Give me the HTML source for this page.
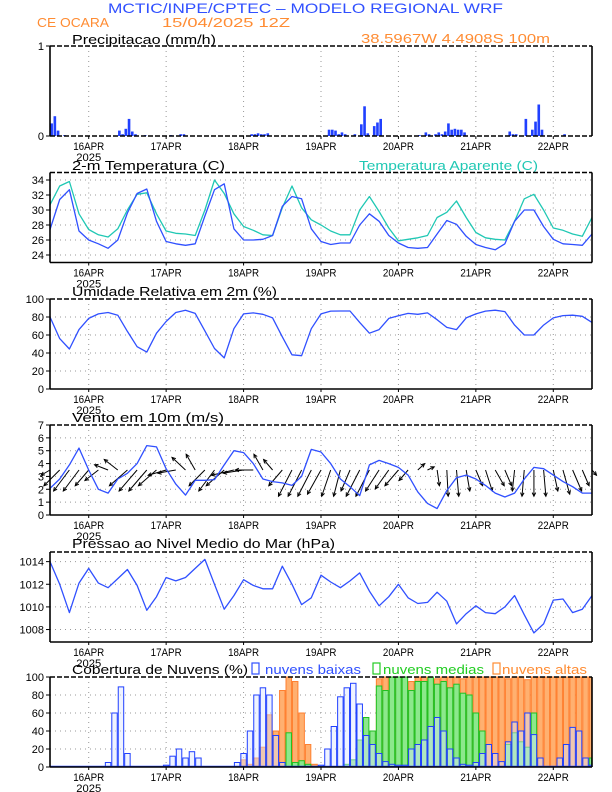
<!DOCTYPE html>
<html><head><meta charset="utf-8"><title>Meteograma WRF</title>
<style>
html,body{margin:0;padding:0;background:#fff;}
svg{display:block;font-family:"Liberation Sans",sans-serif;}
</style></head>
<body>
<svg id="c" width="612" height="792" viewBox="0 0 612 792">
<rect x="0" y="0" width="612" height="792" fill="#fff"/>
<text x="108" y="13" font-size="14" fill="#3050ff" textLength="395" lengthAdjust="spacingAndGlyphs">MCTIC/INPE/CPTEC – MODELO REGIONAL WRF</text>
<text x="37" y="27" font-size="13" fill="#ff8c33" textLength="72" lengthAdjust="spacingAndGlyphs">CE OCARA</text>
<text x="162" y="27" font-size="13" fill="#ff8c33" textLength="128" lengthAdjust="spacingAndGlyphs">15/04/2025 12Z</text>
<text x="361" y="43" font-size="13" fill="#ff8c33" textLength="189" lengthAdjust="spacingAndGlyphs">38.5967W 4.4908S 100m</text>
<text x="72" y="44" font-size="13" fill="#000" textLength="144" lengthAdjust="spacingAndGlyphs">Precipitacao (mm/h)</text>
<text x="72" y="170" font-size="13" fill="#000" textLength="153" lengthAdjust="spacingAndGlyphs">2-m Temperatura (C)</text>
<text x="359" y="170" font-size="13" fill="#20c8b4" textLength="179" lengthAdjust="spacingAndGlyphs">Temperatura Aparente (C)</text>
<text x="72" y="296" font-size="13" fill="#000" textLength="205" lengthAdjust="spacingAndGlyphs">Umidade Relativa em 2m (%)</text>
<text x="72" y="422" font-size="13" fill="#000" textLength="152" lengthAdjust="spacingAndGlyphs">Vento em 10m (m/s)</text>
<text x="72" y="548" font-size="13" fill="#000" textLength="263" lengthAdjust="spacingAndGlyphs">Pressao ao Nivel Medio do Mar (hPa)</text>
<text x="72" y="674" font-size="13" fill="#000" textLength="176" lengthAdjust="spacingAndGlyphs">Cobertura de Nuvens (%)</text>
<rect x="252" y="663" width="7" height="11" fill="none" stroke="#3050ff" stroke-width="1.2"/>
<text x="265" y="674" font-size="13" fill="#3050ff" textLength="96" lengthAdjust="spacingAndGlyphs">nuvens baixas</text>
<rect x="373" y="663" width="7" height="11" fill="none" stroke="#22cc22" stroke-width="1.2"/>
<text x="383" y="674" font-size="13" fill="#22cc22" textLength="101" lengthAdjust="spacingAndGlyphs">nuvens medias</text>
<rect x="493" y="663" width="7" height="11" fill="none" stroke="#ff8c33" stroke-width="1.2"/>
<text x="502" y="674" font-size="13" fill="#ff8c33" textLength="85" lengthAdjust="spacingAndGlyphs">nuvens altas</text>
</svg>
<script>
// ---- data ----
const dayHours = [12, 36, 60, 84, 108, 132, 156];
const dayLabels = ['16APR', '17APR', '18APR', '19APR', '20APR', '21APR', '22APR'];
const precipHours = [1,2,3,5,22,23,24,25,26,27,30,38,41,42,63,64,65,66,67,68,87,88,89,90,91,92,95,97,98,99,101,102,103,115,117,118,120,121,122,123,124,125,126,127,128,129,143,144,145,148,150,151,152,153,160];
const precipVals = [0.14,0.22,0.06,0.01,0.06,0.02,0.08,0.19,0.05,0.02,0.01,0.01,0.02,0.02,0.02,0.02,0.03,0.02,0.02,0.03,0.07,0.07,0.06,0.02,0.04,0.02,0.02,0.13,0.33,0.03,0.11,0.15,0.19,0.01,0.04,0.02,0.02,0.04,0.02,0.05,0.14,0.07,0.08,0.07,0.07,0.04,0.05,0.02,0.02,0.19,0.07,0.16,0.35,0.07,0.02];
const temp2m = [27.4,31.4,32.7,27.2,26,25.5,24.9,26,29.6,32.2,32.8,28.5,25.8,25.5,25.3,25.5,29.2,32.7,33.5,27.5,26,26,26.1,26.6,30.5,31.8,31.5,27.5,25.8,25.4,25.6,25.6,28,29.5,28.5,26.6,25.6,25,24.9,25,26.8,28.6,28.1,26.5,25.4,25,24.7,25.5,28.5,30,30,27.8,26.1,25.5,25.4,25.3,26.8];
const tempApparent = [30.7,33.2,33.8,29.5,27.4,26.7,26.4,27.5,30,32.1,32.3,29.5,27.2,26.9,26.8,26.6,30,34,32.2,29.5,27.8,27.3,26.7,26.6,30.3,33.2,30.3,28.7,28,27.2,26.7,26.7,30,31.8,29.8,27.6,25.9,26.1,26.3,26.6,29,29.7,31.2,29,27,26.3,26.1,26,28.5,31.5,32.1,30,27.6,27.3,26.8,26.5,29];
const humidity = [80,56,44.4,66,78.5,83.5,85,82,64,47,41,62,75,85,87.4,84,64.5,45,34.5,67,83.5,84.5,83,79,58,38,37,67,83.5,86.5,86.7,86.7,74,62,66,78.5,81.3,84,83,84.5,77,68.5,66,79,83.5,86.5,87.6,86,71,60,60,71,79,81.5,82,80.8,74];
const windSpeed = [2.07,2.8,3.9,5.2,3.5,2.0,1.7,2.8,3.24,4,5.4,5.3,3.6,2.4,1.55,2.7,2.7,2.75,3.9,5.0,4.85,4.0,2.8,2.6,2.5,2.3,3.0,5.1,4.9,4.0,2.8,2.2,1.5,3.9,4.25,4.0,3.7,3.1,1.8,0.9,0.5,1.9,2.9,3.1,2.8,2.3,1.7,1.4,1.7,2.8,3.7,3.6,3.1,2.6,2.2,1.7,1.7];
const windU = [-2,-3.5,-3.5,-3.5,-3,-3,-3,-3,-4,-4,-4,-4,-4,-4,-3,-2,-3.5,-3.5,-4,-5,-4.5,-4,-2,-2,-3,-3,-3,-3,-3,-2,-1.5,-2,-3,-3,-3,-3,-3,-2,1.5,1.5,0.5,0.3,0.5,0.8,1.5,1.5,2,1.5,-0.5,-0.5,0,0.5,1,1.5,2,1.5,1];
const windV = [-0.5,-1.5,-2,-2,-1.5,-1,0.5,1,-1.5,-2,-2,-1.5,-0.5,-0.3,1.2,1.5,-1.5,-2,-1.5,-0.5,-0.3,0,1.5,1,-1.5,-2.5,-2.5,-2.5,-2.3,-2.5,-2.5,-2,-2.5,-2.5,-2,-1.8,-1.5,-1,0.6,0.3,-1.5,-2.5,-2.5,-2,-1.5,-2,-1.5,-1.5,-2,-2.5,-2.5,-2.5,-2,-2.3,-2,-1.5,-0.5];
const pressure = [1014.0,1012.0,1009.5,1012.1,1013.4,1012.1,1011.7,1012.5,1013.3,1011.9,1009.7,1010.9,1012.6,1012.3,1012.6,1013.4,1014.2,1012.0,1009.8,1011.0,1012.4,1011.9,1011.6,1011.6,1013.6,1012.0,1010.2,1010.8,1012.8,1012.2,1011.7,1012.3,1013.0,1011.4,1010.1,1010.9,1012.0,1010.8,1010.3,1010.4,1011.3,1010.5,1008.5,1009.4,1010.1,1009.5,1009.4,1010.0,1011.0,1009.3,1007.7,1008.5,1010.6,1010.7,1009.5,1009.8,1011.0];
const cloudLow = [0,0,0,0,0,0,0,0,0, 5,60,89,15,0,0,0,0,0, 2,12,20,10,17,10,0,0,0,0,0,5, 15,40,80,88,80,35,5,0,0,0,0,0, 2,20,45,78,88,93,70,35,25,15,6,3,2,2, 20,25,30,45,55,40,20,10,3,2,5,15,25,15,6, 28,50,40,60,36,10,0,0,10,25,44,40,10,2];
const cloudMid = [0,0,0,0,0,0,0,0,0,0,0,0,0,0,0,0,0,0,0,0,0,0,0,0,0,0,0,0,0,0,0,0,0,0,0,0,0, 38,5,7,3, 0,0,0,0,0, 3,8,30,55,40,90,85,100,100,100,85,95,95,100,92,95,88,92,82,80,60,40, 0,0,0, 25,38,28,22,60, 0,0,0,0,0,0,0,0, 10];
const cloudHigh = [0,0,0,0,0,0,0,0,0,0,0,0,0,0,0,0,0,0,0,0,0,0,0,0,0,0,0,0,0,0, 8,3,10,22,58,40,85,100,95,60,25,3, 0,0,0,0,0,0, 10,20,30,98,100,100,100,100,95,100,100,100,98,100,100,100,98,100,100,100,100,100,100,98,100,100,97,100,100,100,100,100,100,100,100,100,100];
const tempTicks = [24,26,28,30,32,34];
const rhTicks = [0,20,40,60,80,100];
const windTicks = [0,1,2,3,4,5,6,7];
const presTicks = [1008,1010,1012,1014];
const cloudTicks = [0,20,40,60,80,100];
const precipTicks = [0,1];

// ---- layout ----
const NS = 'http://www.w3.org/2000/svg';
const svg = document.getElementById('c');
const X0 = 50, X1 = 592, PH = 90;
function xs(h){ return X0 + h * (X1 - X0) / 168; }
function ys(p, v){ return p.top + PH - (v - p.min) / (p.max - p.min) * PH; }
function mk(tag, attrs, parent){
  const e = document.createElementNS(NS, tag);
  for (const k in attrs) e.setAttribute(k, attrs[k]);
  (parent || svg).appendChild(e);
  return e;
}
const panels = {
  precip: {top:46, min:0, max:1, ticks:precipTicks},
  temp: {top:172.5, min:23, max:35, ticks:tempTicks},
  rh: {top:299, min:0, max:100, ticks:rhTicks},
  wind: {top:425, min:0, max:7, ticks:windTicks},
  pres: {top:552, min:1006.9, max:1014.85, ticks:presTicks},
  cloud: {top:677, min:0, max:100, ticks:cloudTicks}
};

function drawGrid(key){
  const p = panels[key];
  const g = mk('g', {});
  
  
  dayHours.forEach(function(h){
    const l = mk('line', {x1:xs(h), x2:xs(h), y1:p.top, y2:p.top+PH, stroke:'#999', 'stroke-width':1, 'stroke-dasharray':'1,4'}, g);
    
    
  });
  p.ticks.forEach(function(t){
    const y = ys(p, t);
    if (y > p.top + 1 && y < p.top + PH - 1) {
      const l = mk('line', {x1:X0, x2:X1, y1:y, y2:y, stroke:'#999', 'stroke-width':1, 'stroke-dasharray':'1,4'}, g);
      
      
    }
  });
}
function drawFrame(key){
  const p = panels[key];
  const g = mk('g', {});
  
  
  const b = p.top + PH;
  mk('line', {x1:X0, x2:X0, y1:p.top, y2:b, stroke:'#000', 'stroke-width':1.6}, g);
  mk('line', {x1:X1, x2:X1, y1:p.top, y2:b, stroke:'#000', 'stroke-width':1.6}, g);
  mk('line', {x1:X0, x2:X1, y1:p.top, y2:p.top, stroke:'#000', 'stroke-width':1.6, 'stroke-dasharray':'5,2'}, g);
  mk('line', {x1:X0, x2:X1, y1:b, y2:b, stroke:'#000', 'stroke-width':1.6, 'stroke-dasharray':key==='precip'?'5,2':'none'}, g);
  p.ticks.forEach(function(t){
    const y = ys(p, t);
    mk('line', {x1:X0-4, x2:X0, y1:y, y2:y, stroke:'#000', 'stroke-width':1}, g);
    const tx = mk('text', {x:X0-6, y:y+4, 'font-size':11, 'text-anchor':'end', fill:'#000'}, g);
    
    
    tx.textContent = String(t);
  });
  dayHours.forEach(function(h, i){
    mk('line', {x1:xs(h), x2:xs(h), y1:b, y2:b+3, stroke:'#000', 'stroke-width':1}, g);
    const tx = mk('text', {x:xs(h), y:b+14, 'font-size':11, 'text-anchor':'middle', fill:'#000', textLength:31, lengthAdjust:'spacingAndGlyphs'}, g);
    
    
    tx.textContent = dayLabels[i];
  });
  const yr = mk('text', {x:xs(dayHours[0]), y:b+25, 'font-size':11, 'text-anchor':'middle', fill:'#000', textLength:25, lengthAdjust:'spacingAndGlyphs'}, g);
  
  
  yr.textContent = '2025';
}
function line(key, vals, color, name){
  const p = panels[key];
  const pts = vals.map(function(v, i){ return xs(i*3).toFixed(1) + ',' + ys(p, v).toFixed(1); }).join(' ');
  const pl = mk('polyline', {points:pts, fill:'none', stroke:color, 'stroke-width':1.3, 'stroke-linejoin':'round'});
  
  
}

Object.keys(panels).forEach(drawGrid);

// precipitation
precipHours.forEach(function(h, i){
  const p = panels.precip;
  const y = ys(p, precipVals[i]);
  const r = mk('rect', {x:xs(h-1)+0.3, y:y, width:Math.max(xs(h)-xs(h-1)-0.6, 1), height:p.top+PH-y, fill:'#2040ff'});
  
  
});

// temperatures
line('temp', tempApparent, '#20c8b4', 'apparent-temp-line');
line('temp', temp2m, '#3050ff', 'temp-2m-line');

// humidity
line('rh', humidity, '#3050ff', 'humidity-line');

// wind arrows
(function(){
  const p = panels.wind;
  const y0 = ys(p, 3.5);
  const kx = 4.5, ky = 10.5;
  windU.forEach(function(u, i){
    const x = xs(i*3);
    const dx = u * kx, dy = -windV[i] * ky;
    const x2 = x + dx, y2 = y0 + dy;
    const ang = Math.atan2(dy, dx);
    const a1 = ang + Math.PI - 0.45, a2 = ang + Math.PI + 0.45;
    const g = mk('g', {stroke:'#000', 'stroke-width':1, fill:'none'});
    
    
    mk('line', {x1:x, y1:y0, x2:x2, y2:y2}, g);
    mk('polyline', {points:(x2+4*Math.cos(a1))+','+(y2+4*Math.sin(a1))+' '+x2+','+y2+' '+(x2+4*Math.cos(a2))+','+(y2+4*Math.sin(a2))}, g);
  });
})();
line('wind', windSpeed, '#3050ff', 'wind-speed-line');

// pressure
line('pres', pressure, '#3050ff', 'pressure-line');

// clouds
function cloudBars(vals, fill, stroke, name){
  const p = panels.cloud;
  vals.forEach(function(v, i){
    if (v <= 0) return;
    const h = i*2;
    const xa = Math.max(xs(h-1), X0), xb = Math.min(xs(h+1), X1);
    const y = ys(p, v);
    const r = mk('rect', {x:xa+0.5, y:y, width:xb-xa-1, height:p.top+PH-y, fill:fill, stroke:stroke, 'stroke-width':1});
    
    
  });
}
cloudBars(cloudHigh, '#ffb070', '#ff8030', 'cloud-high-bar');
cloudBars(cloudMid, '#8ce88c', '#22c022', 'cloud-mid-bar');
cloudBars(cloudLow, 'rgba(220,228,255,0.45)', '#2040ff', 'cloud-low-bar');
(function(){
  const p = panels.cloud;
  const l = mk('line', {x1:X0, x2:X1, y1:p.top+PH-0.5, y2:p.top+PH-0.5, stroke:'#2040ff', 'stroke-width':1.5});
  
  
})();

Object.keys(panels).forEach(drawFrame);
</script>
</body></html>
